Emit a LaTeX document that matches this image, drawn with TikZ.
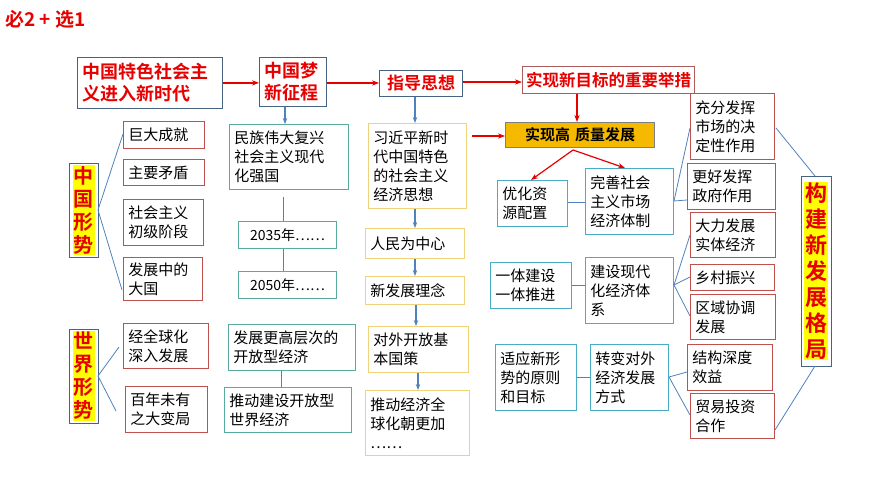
\documentclass[tikz,border=0pt]{standalone}
\usepackage{fontspec}
\setmainfont{Noto Sans CJK SC}[BoldFont={* Bold}]
\usetikzlibrary{arrows.meta}
\definecolor{hred}{RGB}{230,0,0}
\definecolor{dred}{RGB}{192,80,77}
\definecolor{slate}{RGB}{70,100,130}
\definecolor{tealb}{RGB}{90,170,160}
\definecolor{skyb}{RGB}{75,172,198}
\definecolor{yelb}{RGB}{240,210,120}
\definecolor{arrb}{RGB}{79,129,189}
\definecolor{gold}{RGB}{245,185,0}
\definecolor{hl}{RGB}{255,255,0}
\tikzset{
  every picture/.style={line width=0.75pt},
  base/.style={draw, anchor=north west, align=left, inner sep=5pt, font=\fontsize{15}{19}\selectfont},
  titlebox/.style={base, draw=slate, text=hred, font=\fontsize{18}{22}\selectfont\bfseries},
  redbox/.style={base, draw=dred},
  tealbox/.style={base, draw=tealb},
  skybox/.style={base, draw=skyb},
  yelbox/.style={base, draw=yelb},
  redarr/.style={draw=hred, line width=1.5pt, -{Stealth[length=7pt]}},
  bluarr/.style={draw=arrb, line width=1.2pt, -{Stealth[length=6pt]}},
  fan/.style={draw=arrb, line width=0.8pt},
  vtitle/.style={fill=hl, text=hred, inner sep=1pt, align=center, font=\fontsize{20}{23}\selectfont\bfseries},
}
% box from corner (x1,y1) to (x2,y2)
\newcommand\bx[7]{\node[#2, text width={#5pt-#3pt-10.75pt}, minimum height={#6pt-#4pt}] (#1) at (#3,#4) {#7};}
\begin{document}
\begin{tikzpicture}[x=1pt,y=1pt,yscale=-1]
\useasboundingbox (0,0) rectangle (870,489);

% title
\node[anchor=north west, text=hred, font=\fontsize{19}{22}\selectfont\bfseries, inner sep=0pt] (ttl) at (5,10) {必2 + 选1};

% top row
\bx{newera}{titlebox}{77}{57}{223}{108}{中国特色社会主\\义进入新时代}
\bx{dream}{titlebox}{259}{57}{327}{104}{中国梦\\新征程}
\bx{guide}{titlebox, inner sep=3pt, align=center, font=\fontsize{17}{21}\selectfont\bfseries}{379}{70}{467}{96}{指导思想}
\bx{measure}{titlebox, draw=dred!70!gray, inner sep=3pt, align=center, font=\fontsize{16.5}{20}\selectfont\bfseries}{522}{66}{699}{93}{实现新目标的重要举措}
\bx{quality}{base, draw=gray, fill=gold, inner sep=3pt, align=center, font=\fontsize{15}{19}\selectfont\bfseries}{505}{122}{659}{147}{实现高 质量发展}

\draw[redarr] (newera.east) ++(0,0) coordinate (a1) (a1) -- (dream.west |- a1);
\draw[redarr] (dream.east |- 0,83) -- (guide.west |- 0,83);
\draw[redarr] (guide.east |- 0,82) -- (measure.west |- 0,82);
\draw[redarr] (measure.south -| 577,0) -- (quality.north -| 577,0);

% China situation
\draw[slate] (69,163) rectangle (98,257);
\node[vtitle] (cn) at (83.5,210) {中\\国\\形\\势};
\bx{achieve}{redbox}{123}{121}{205}{148}{巨大成就}
\bx{contra}{redbox}{123}{159}{205}{185}{主要矛盾}
\bx{stage}{redbox}{123}{199}{204}{245}{社会主义\\初级阶段}
\bx{devel}{redbox}{123}{257}{203}{300}{发展中的\\大国}
\coordinate (cnr) at (98,210);
\draw[fan] (cnr) -- (123,134);
\draw[fan] (cnr) -- (122,290);

% world situation
\draw[slate] (69,329) rectangle (98,423);
\node[vtitle] (wd) at (83.5,376) {世\\界\\形\\势};
\bx{global}{redbox}{123}{323}{209}{368}{经全球化\\深入发展}
\bx{century}{redbox}{125}{386}{208}{432}{百年未有\\之大变局}
\coordinate (wdr) at (98,376);
\draw[fan] (wdr) -- (119,347);
\draw[fan] (wdr) -- (116,411);

% dream column
\bx{revive}{tealbox}{229}{124}{349}{189}{民族伟大复兴\\社会主义现代\\化强国}
\bx{y2035}{tealbox, align=center, font=\fontsize{14}{18}\selectfont}{238}{221}{337}{248}{2035年……}
\bx{y2050}{tealbox, align=center, font=\fontsize{14}{18}\selectfont}{238}{271}{337}{298}{2050年……}
\draw[bluarr] (dream.south -| 285,0) -- (revive.north -| 285,0);
\draw[fan] (283,197) -- (y2035.north -| 283,0);
\draw[fan] (y2035.south -| 283,0) -- (y2050.north -| 283,0);
\bx{openhigh}{tealbox}{228}{324}{356}{370}{发展更高层次的\\开放型经济}
\bx{openworld}{tealbox}{224}{387}{352}{432}{推动建设开放型\\世界经济}
\draw[fan] (openhigh.south -| 281,0) -- (openworld.north -| 281,0);

% guide column
\bx{xithought}{yelbox}{368}{123}{467}{208}{习近平新时\\代中国特色\\的社会主义\\经济思想}
\bx{people}{yelbox}{365}{228}{465}{258}{人民为中心}
\bx{newidea}{yelbox}{365}{276}{465}{304}{新发展理念}
\bx{openpol}{yelbox}{368}{326}{469}{372}{对外开放基\\本国策}
\bx{globe}{yelbox}{365}{390}{470}{455}{推动经济全\\球化朝更加\\……}
\draw[bluarr] (guide.south -| 415,0) -- (xithought.north -| 415,0);
\draw[bluarr] (xithought.south -| 415,0) -- (people.north -| 415,0);
\draw[bluarr] (people.south -| 415,0) -- (newidea.north -| 415,0);
\draw[bluarr] (newidea.south -| 416,0) -- (openpol.north -| 416,0);
\draw[bluarr] (openpol.south -| 418,0) -- (globe.north -| 418,0);
\draw[redarr] (472,136) -- (quality.west |- 0,136);

% measure column
\bx{alloc}{skybox}{497}{180}{568}{226}{优化资\\源配置}
\bx{market}{skybox}{585}{168}{674}{234}{完善社会\\主义市场\\经济体制}
\coordinate (qb) at (573,150);
\draw[redarr, line width=1.2pt] (qb) -- (531,180);
\draw[redarr, line width=1.2pt] (qb) -- (625,168);
\draw[fan] (alloc.east |- 0,202) -- (market.west |- 0,202);
\bx{integ}{skybox}{490}{262}{572}{308}{一体建设\\一体推进}
\bx{modern}{skybox}{585}{257}{674}{323}{建设现代\\化经济体\\系}
\draw[fan] (integ.east |- 0,285) -- (modern.west |- 0,285);
\bx{adapt}{skybox}{495}{344}{577}{410}{适应新形\\势的原则\\和目标}
\bx{trans}{skybox}{590}{344}{669}{410}{转变对外\\经济发展\\方式}
\draw[fan] (adapt.east |- 0,377) -- (trans.west |- 0,377);

% right column
\bx{mktrole}{redbox}{690}{93}{775}{159}{充分发挥\\市场的决\\定性作用}
\bx{govrole}{redbox}{687}{163}{776}{209}{更好发挥\\政府作用}
\bx{real}{redbox}{690}{212}{776}{257}{大力发展\\实体经济}
\bx{rural}{redbox}{690}{264}{775}{290}{乡村振兴}
\bx{region}{redbox}{690}{294}{776}{339}{区域协调\\发展}
\bx{struct}{redbox}{687}{344}{773}{390}{结构深度\\效益}
\bx{trade}{redbox}{690}{393}{775}{438}{贸易投资\\合作}
\coordinate (mk) at (674,201);
\draw[fan] (mk) -- (690,128);
\draw[fan] (mk) -- (687,200);
\coordinate (md) at (674,285);
\draw[fan] (md) -- (690,235);
\draw[fan] (md) -- (690,277);
\draw[fan] (md) -- (690,316);
\coordinate (tr) at (669,377);
\draw[fan] (tr) -- (687,372);
\draw[fan] (tr) -- (690,415);

% new pattern
\draw[slate] (801,176) rectangle (831,366);
\node[vtitle, font=\fontsize{22}{26}\selectfont\bfseries] (pattern) at (816,271) {构\\建\\新\\发\\展\\格\\局};
\draw[fan] (815,176) -- (776,128);
\draw[fan] (815,366) -- (775,430);
\end{tikzpicture}
\end{document}
